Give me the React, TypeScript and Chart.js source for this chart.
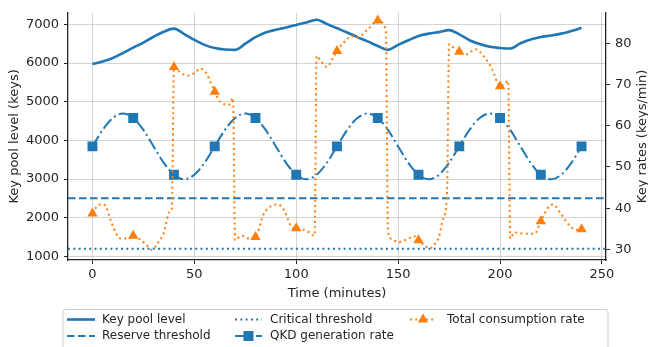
import React, { useEffect, useRef } from 'react';
import { Chart, registerables } from 'chart.js';

Chart.register(...registerables);

// ---------------- data ----------------
const TIME_KP = [0, 5, 10, 15, 20, 25, 30, 35, 40, 45, 50, 55, 60, 65, 70, 75, 80, 85, 90, 95, 100, 105, 110, 115, 120, 125, 130, 135, 140, 145, 150, 155, 160, 165, 170, 175, 180, 185, 190, 195, 200, 205, 210, 215, 220, 225, 230, 235, 240];
const KEY_POOL = [5975, 6040, 6130, 6260, 6400, 6530, 6680, 6810, 6890, 6750, 6600, 6470, 6390, 6350, 6340, 6500, 6670, 6790, 6860, 6920, 6985, 7050, 7120, 7010, 6900, 6790, 6670, 6560, 6440, 6340, 6470, 6590, 6700, 6760, 6800, 6850, 6740, 6590, 6490, 6420, 6390, 6375, 6510, 6610, 6675, 6710, 6760, 6830, 6910];

const TIME_QKD = [0, 5, 10, 15, 20, 25, 30, 35, 40, 45, 50, 55, 60, 65, 70, 75, 80, 85, 90, 95, 100, 105, 110, 115, 120, 125, 130, 135, 140, 145, 150, 155, 160, 165, 170, 175, 180, 185, 190, 195, 200, 205, 210, 215, 220, 225, 230, 235, 240];
const QKD_RATE = [55, 59, 61.9, 63, 61.9, 59, 55, 51, 48.1, 47, 48.1, 51, 55, 59, 61.9, 63, 61.9, 59, 55, 51, 48.1, 47, 48.1, 51, 55, 59, 61.9, 63, 61.9, 59, 55, 51, 48.1, 47, 48.1, 51, 55, 59, 61.9, 63, 61.9, 59, 55, 51, 48.1, 47, 48.1, 51, 55];

const TIME_CONS = [0, 2, 4, 6, 9, 12, 14, 18, 20, 23, 26, 29, 32, 35, 38, 39, 40, 43, 47, 50, 53, 56, 58, 60, 62, 64, 67, 69, 70, 73, 77, 80, 84, 88, 91, 94, 98, 100, 105, 109, 110, 112, 115, 118, 120, 124, 127, 130, 135, 140, 144, 145, 147, 150, 155, 158, 160, 163, 165.5, 168, 170, 172, 174, 175, 178, 180, 183.5, 188, 192.5, 196, 200, 202.5, 204, 205, 207, 212, 217, 220, 223.5, 226, 230, 235, 238, 240];
const CONSUMPTION = [38.7, 40.3, 40.9, 40.8, 37, 33.5, 32.6, 32.6, 33.3, 32.5, 31.3, 29.9, 31.5, 34, 39.3, 40, 74.3, 73, 72.2, 72.8, 73.9, 72.7, 70.5, 68.3, 66.3, 65.4, 65.1, 66.7, 32.2, 33.3, 32.6, 33, 38.5, 40.6, 40.9, 39.5, 35.3, 35.1, 34.5, 33.3, 77, 75.8, 74.3, 76.5, 78.2, 80.6, 81.8, 81.5, 83.4, 85.6, 83, 34.5, 32.5, 31.7, 32.6, 33.2, 32.2, 31, 30.2, 31.3, 32.9, 37.3, 44, 79.8, 78.6, 78, 77.4, 78.6, 76.6, 73.9, 69.6, 70.3, 71, 32.6, 34.1, 33.8, 33.8, 36.8, 40.1, 40.9, 38.5, 35.3, 34.7, 34.9];

const MARKER_TIMES = [0, 20, 40, 60, 80, 100, 120, 140, 160, 180, 200, 220, 240];
const RESERVE_THRESHOLD = 2500;
const CRITICAL_THRESHOLD = 1200;

const X_TICKS = [0, 50, 100, 150, 200, 250];
const Y_LEFT_TICKS = [1000, 2000, 3000, 4000, 5000, 6000, 7000];
const Y_RIGHT_TICKS = [30, 40, 50, 60, 70, 80];
const X_MIN = -12;
const X_MAX = 252;
const Y_LEFT_MIN = 906;
const Y_LEFT_MAX = 7299;
const Y_RIGHT_MIN = 27.4;
const Y_RIGHT_MAX = 87.46;

const LABELS = ['Key pool level', 'Reserve threshold', 'Critical threshold', 'QKD generation rate', 'Total consumption rate'];
const X_TITLE = 'Time (minutes)';
const Y_LEFT_TITLE = 'Key pool level (keys)';
const Y_RIGHT_TITLE = 'Key rates (keys/min)';

// ---------------- styles ----------------
const BLUE = '#1f77b4';
const ORANGE = '#ff7f0e';
const DARK = '#262626';
const GRID = 'rgba(176,176,176,0.55)';
const FONT = '"DejaVu Sans", sans-serif';

const LEGEND_ITEMS = [
  { label: LABELS[0], color: BLUE, width: 2.6, dash: [] as number[], marker: null as null | string, col: 0, row: 0 },
  { label: LABELS[1], color: BLUE, width: 2, dash: [7.5, 3.5], marker: null, col: 0, row: 1 },
  { label: LABELS[2], color: BLUE, width: 2, dash: [2, 3.3], marker: null, col: 1, row: 0 },
  { label: LABELS[3], color: BLUE, width: 2, dash: [12, 3.5, 2, 3.5], marker: 'rect', col: 1, row: 1 },
  { label: LABELS[4], color: ORANGE, width: 2, dash: [2, 3.3], marker: 'triangle', col: 2, row: 0 },
];
const LEGEND_BOX = { x: 63, y: 309, w: 545, h: 50 };
const LEGEND_COLS = [{ h0: 67, h1: 95, t: 102 }, { h0: 235, h1: 262, t: 270 }, { h0: 410, h1: 436, t: 447 }];
const LEGEND_ROWS = [319.5, 336];

function drawMarker(ctx: CanvasRenderingContext2D, kind: string, x: number, y: number, color: string) {
  ctx.save();
  ctx.setLineDash([]);
  ctx.fillStyle = color;
  ctx.beginPath();
  if (kind === 'rect') {
    ctx.rect(x - 5, y - 5, 10, 10);
  } else {
    const r = 6;
    ctx.moveTo(x, y - r);
    ctx.lineTo(x + r * 0.866, y + r * 0.5);
    ctx.lineTo(x - r * 0.866, y + r * 0.5);
    ctx.closePath();
  }
  ctx.fill();
  ctx.restore();
}

const extrasPlugin = {
  id: 'extras',
  afterDraw(chart: any) {
    const ctx: CanvasRenderingContext2D = chart.ctx;
    const area = chart.chartArea;
    // right axis title (reads bottom-to-top)
    ctx.save();
    ctx.fillStyle = DARK;
    ctx.font = `13px ${FONT}`;
    ctx.translate(643, (area.top + area.bottom) / 2);
    ctx.rotate(-Math.PI / 2);
    ctx.textAlign = 'center';
    ctx.textBaseline = 'middle';
    ctx.fillText(Y_RIGHT_TITLE, 0, 0);
    ctx.restore();

    // legend
    ctx.save();
    const b = LEGEND_BOX;
    ctx.fillStyle = 'rgba(255,255,255,0.85)';
    ctx.strokeStyle = '#cccccc';
    ctx.lineWidth = 1;
    ctx.beginPath();
    const rr = 3;
    ctx.moveTo(b.x + rr, b.y + 0.5);
    ctx.lineTo(b.x + b.w - rr, b.y + 0.5);
    ctx.quadraticCurveTo(b.x + b.w, b.y + 0.5, b.x + b.w, b.y + rr);
    ctx.lineTo(b.x + b.w, b.y + b.h);
    ctx.lineTo(b.x, b.y + b.h);
    ctx.lineTo(b.x, b.y + rr);
    ctx.quadraticCurveTo(b.x, b.y + 0.5, b.x + rr, b.y + 0.5);
    ctx.fill();
    ctx.stroke();
    for (const it of LEGEND_ITEMS) {
      const c = LEGEND_COLS[it.col];
      const y = LEGEND_ROWS[it.row];
      ctx.save();
      ctx.strokeStyle = it.color;
      ctx.lineWidth = it.width;
      ctx.setLineDash(it.dash);
      ctx.beginPath();
      ctx.moveTo(c.h0, y);
      ctx.lineTo(c.h1, y);
      ctx.stroke();
      ctx.restore();
      if (it.marker) drawMarker(ctx, it.marker, (c.h0 + c.h1) / 2, y, it.color);
      ctx.fillStyle = DARK;
      ctx.font = `12px ${FONT}`;
      ctx.textAlign = 'left';
      ctx.textBaseline = 'middle';
      ctx.fillText(it.label, c.t, y);
    }
    ctx.restore();
  },
};

const markerRadius = (size: number) => (c: any) => {
  const x = c.raw && c.raw.x;
  return MARKER_TIMES.includes(x) ? size : 0;
};

const plainTick = (v: any) => String(v);

export default function App() {
  const ref = useRef<HTMLCanvasElement | null>(null);
  useEffect(() => {
    if (!ref.current) return;
    Chart.defaults.font.family = FONT;
    Chart.defaults.font.size = 13;
    Chart.defaults.color = DARK;
    const chart = new Chart(ref.current, {
      type: 'line',
      data: {
        datasets: [
          {
            label: LABELS[4],
            data: TIME_CONS.map((t, i) => ({ x: t, y: CONSUMPTION[i] })),
            yAxisID: 'y1',
            borderColor: ORANGE,
            backgroundColor: ORANGE,
            borderWidth: 2,
            borderDash: [2, 3.3],
            pointStyle: 'triangle',
            pointRadius: markerRadius(6),
            pointBorderWidth: 0,
            pointBackgroundColor: ORANGE,
            cubicInterpolationMode: 'monotone',
            order: 1,
          },
          {
            label: LABELS[3],
            data: TIME_QKD.map((t, i) => ({ x: t, y: QKD_RATE[i] })),
            yAxisID: 'y1',
            borderColor: BLUE,
            backgroundColor: BLUE,
            borderWidth: 2,
            borderDash: [12, 3.5, 2, 3.5],
            pointStyle: 'rect',
            pointRadius: markerRadius(7),
            pointBorderWidth: 0,
            pointBackgroundColor: BLUE,
            cubicInterpolationMode: 'monotone',
            order: 2,
          },
          {
            label: LABELS[2],
            data: [{ x: X_MIN, y: CRITICAL_THRESHOLD }, { x: X_MAX, y: CRITICAL_THRESHOLD }],
            yAxisID: 'y',
            borderColor: BLUE,
            borderWidth: 2,
            borderDash: [2, 3.3],
            pointRadius: 0,
            order: 3,
          },
          {
            label: LABELS[1],
            data: [{ x: X_MIN, y: RESERVE_THRESHOLD }, { x: X_MAX, y: RESERVE_THRESHOLD }],
            yAxisID: 'y',
            borderColor: BLUE,
            borderWidth: 2,
            borderDash: [7.5, 3.5],
            pointRadius: 0,
            order: 4,
          },
          {
            label: LABELS[0],
            data: TIME_KP.map((t, i) => ({ x: t, y: KEY_POOL[i] })),
            yAxisID: 'y',
            borderColor: BLUE,
            borderWidth: 2.6,
            pointRadius: 0,
            cubicInterpolationMode: 'monotone',
            order: 5,
          },
        ],
      },
      options: {
        responsive: false,
        animation: false,
        events: [],
        layout: { padding: { top: 8, left: 0, right: 0, bottom: 0 } },
        plugins: { legend: { display: false }, tooltip: { enabled: false }, title: { display: false } },
        scales: {
          x: {
            type: 'linear',
            min: X_MIN,
            max: X_MAX,
            afterBuildTicks: (s: any) => { s.ticks = X_TICKS.map((v) => ({ value: v })); },
            afterFit: (s: any) => { s.height = 87; },
            ticks: { padding: 3, color: DARK, font: { size: 13 }, callback: plainTick },
            grid: { color: GRID, lineWidth: 1, tickColor: DARK, tickLength: 4, tickWidth: 1 },
            border: { display: true, color: DARK, width: 1.3 },
            title: { display: true, text: X_TITLE, color: DARK, font: { size: 13 }, padding: { top: 0, bottom: 46 } },
          },
          y: {
            type: 'linear',
            position: 'left',
            min: Y_LEFT_MIN,
            max: Y_LEFT_MAX,
            afterBuildTicks: (s: any) => { s.ticks = Y_LEFT_TICKS.map((v) => ({ value: v })); },
            afterFit: (s: any) => { s.width = 68; },
            ticks: { padding: 5, color: DARK, font: { size: 13 }, callback: plainTick },
            grid: { color: GRID, lineWidth: 1, tickColor: DARK, tickLength: 4, tickWidth: 1 },
            border: { display: true, color: DARK, width: 1.3 },
            title: { display: true, text: Y_LEFT_TITLE, color: DARK, font: { size: 13 }, padding: { top: 7, bottom: 0 } },
          },
          y1: {
            type: 'linear',
            position: 'right',
            min: Y_RIGHT_MIN,
            max: Y_RIGHT_MAX,
            afterBuildTicks: (s: any) => { s.ticks = Y_RIGHT_TICKS.map((v) => ({ value: v })); },
            afterFit: (s: any) => { s.width = 42; },
            ticks: { padding: 5, color: DARK, font: { size: 13 }, callback: plainTick },
            grid: { drawOnChartArea: false, tickColor: DARK, tickLength: 4, tickWidth: 1 },
            border: { display: true, color: DARK, width: 1.3 },
          },
        },
      },
      plugins: [extrasPlugin],
    } as any);
    return () => chart.destroy();
  }, []);
  return (
    <div style={{ position: 'fixed', left: 0, top: 0, width: 648, height: 347, background: '#fff' }}>
      <canvas ref={ref} width={648} height={347} style={{ display: 'block', width: 648, height: 347 }} />
    </div>
  );
}
